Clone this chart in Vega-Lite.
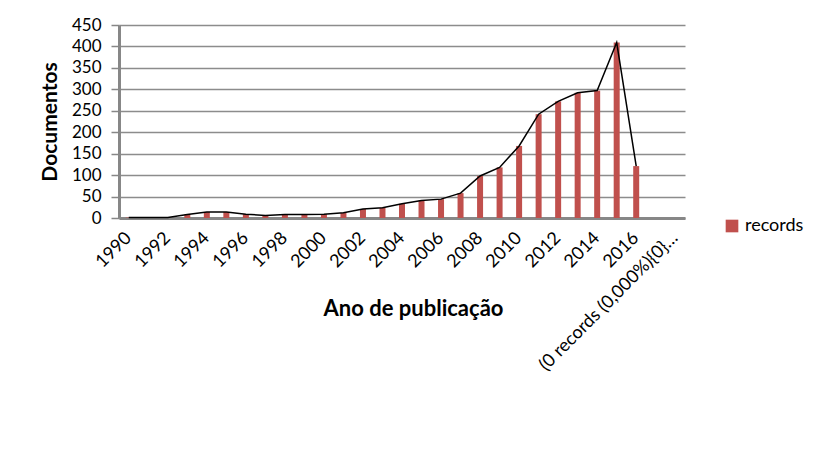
{
  "$schema": "https://vega.github.io/schema/vega-lite/v6.json",
  "width": 566,
  "height": 193,
  "autosize": {"type": "none"},
  "padding": {"left": 119, "top": 25, "right": 149, "bottom": 236},
  "background": "white",
  "config": {
    "font": "Lato",
    "view": {"stroke": null},
    "axis": {"labelFont": "Lato", "titleFont": "Lato", "labelColor": "#000000", "titleColor": "#000000"}
  },
  "data": {
    "values": [
      {"year": "1990", "records": 1},
      {"year": "1991", "records": 1},
      {"year": "1992", "records": 1},
      {"year": "1993", "records": 8},
      {"year": "1994", "records": 14},
      {"year": "1995", "records": 14},
      {"year": "1996", "records": 9},
      {"year": "1997", "records": 6},
      {"year": "1998", "records": 8},
      {"year": "1999", "records": 8},
      {"year": "2000", "records": 9},
      {"year": "2001", "records": 12},
      {"year": "2002", "records": 21},
      {"year": "2003", "records": 24},
      {"year": "2004", "records": 33},
      {"year": "2005", "records": 41},
      {"year": "2006", "records": 44},
      {"year": "2007", "records": 58},
      {"year": "2008", "records": 98},
      {"year": "2009", "records": 118},
      {"year": "2010", "records": 168},
      {"year": "2011", "records": 242},
      {"year": "2012", "records": 272},
      {"year": "2013", "records": 292},
      {"year": "2014", "records": 297},
      {"year": "2015", "records": 409},
      {"year": "2016", "records": 121},
      {"year": " ", "records": null},
      {"year": "(0 records (0,000%){0}…", "records": null}
    ]
  },
  "encoding": {
    "x": {
      "field": "year",
      "type": "nominal",
      "sort": null,
      "scale": {
        "domain": ["1990","1991","1992","1993","1994","1995","1996","1997","1998","1999","2000","2001","2002","2003","2004","2005","2006","2007","2008","2009","2010","2011","2012","2013","2014","2015","2016"," ","(0 records (0,000%){0}…"],
        "paddingInner": 0,
        "paddingOuter": 0
      },
      "axis": {
        "values": ["1990","1992","1994","1996","1998","2000","2002","2004","2006","2008","2010","2012","2014","2016","(0 records (0,000%){0}…"],
        "labelAngle": -45,
        "labelAlign": "right",
        "labelBaseline": "middle",
        "labelPadding": 17,
        "labelFontSize": 18,
        "labelLimit": 300,
        "labelOverlap": false,
        "ticks": false,
        "domainColor": "#878787",
        "domainWidth": 3,
        "title": "Ano de publicação",
        "titleFontSize": 22,
        "titleFontWeight": "bold",
        "titleX": 294,
        "titleY": 90,
        "titleBaseline": "middle",
        "titleAnchor": "middle"
      }
    },
    "y": {
      "field": "records",
      "type": "quantitative",
      "scale": {"domain": [0, 450], "nice": false, "zero": true},
      "axis": {
        "values": [0,50,100,150,200,250,300,350,400,450],
        "grid": true,
        "gridColor": "#8c8c8c",
        "gridWidth": 1.5,
        "domainColor": "#878787",
        "domainWidth": 3,
        "tickColor": "#878787",
        "tickSize": 8,
        "tickWidth": 1.5,
        "labelPadding": 10,
        "labelFontSize": 17,
        "title": "Documentos",
        "titleFontSize": 21,
        "titleFontWeight": "bold",
        "titlePadding": 11
      }
    }
  },
  "layer": [
    {
      "mark": {"type": "bar", "width": 6, "color": "#C0504D"},
      "encoding": {
        "color": {
          "datum": "records",
          "type": "nominal",
          "scale": {"range": ["#C0504D"]},
          "legend": {
            "title": null,
            "orient": "none",
            "legendX": 604,
            "legendY": 192,
            "symbolType": "square",
            "symbolSize": 160,
            "symbolStrokeWidth": 0,
            "labelFontSize": 18,
            "labelFont": "Lato",
            "labelColor": "#000000"
          }
        }
      }
    },
    {
      "mark": {"type": "line", "color": "#000000", "strokeWidth": 1.5},
      "transform": [{"filter": "datum.records != null"}],
      "encoding": {}
    }
  ]
}
